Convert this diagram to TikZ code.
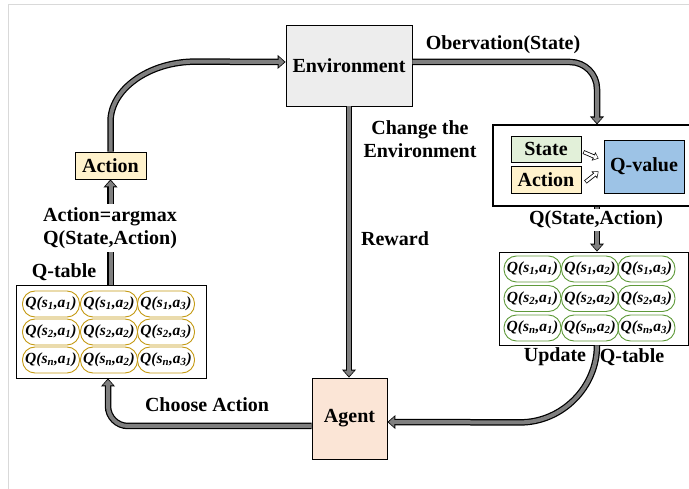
\documentclass[tikz,border=0pt]{standalone}
\usepackage{fontspec}
\setmainfont{Liberation Serif}
\usetikzlibrary{arrows.meta}
\definecolor{arrgray}{HTML}{7F7F7F}
\definecolor{envfill}{HTML}{EDEDED}
\definecolor{agentfill}{HTML}{FBE5D6}
\definecolor{actfill}{HTML}{FFF2CC}
\definecolor{statefill}{HTML}{E2F0D9}
\definecolor{qvfill}{HTML}{9DC3E6}
\definecolor{ycell}{HTML}{C49A14}
\definecolor{gcell}{HTML}{5F9A3A}
\definecolor{framegray}{HTML}{D9D9D9}
\newcommand\qcell[2]{\itshape Q(s\textsubscript{#1},a\textsubscript{#2})}
\begin{document}
\begin{tikzpicture}[x=1pt,y=-1pt,
  lbl/.style={font=\bfseries\fontsize{20}{23}\selectfont, align=center, inner sep=1pt},
  box/.style={draw=black, line width=0.8pt, inner sep=0pt, font=\bfseries\fontsize{20}{23}\selectfont},
  cell/.style={draw, line width=0.9pt, rounded corners=12.5pt, minimum width=57pt, minimum height=26pt, inner sep=0pt, font=\bfseries\fontsize{15.5}{17}\selectfont},
  garrow/.style={draw=arrgray, line width=4pt, -{Triangle[length=5.5pt,width=10pt]}, shorten >=1.4pt,
     preaction={draw=black, line width=6.5pt, -{Triangle[length=8pt,width=13.5pt]}, shorten >=0pt}},
  harrow/.style={draw=white, line width=2.4pt, -{Triangle[length=3.5pt,width=6pt]}, shorten >=1pt, shorten <=0.7pt,
     preaction={draw=black, line width=4pt, -{Triangle[length=5.5pt,width=9pt]}, shorten >=0pt, shorten <=0pt}}
]
\useasboundingbox (0,0) rectangle (689,489);
\draw[framegray, line width=1pt] (8,489) -- (8,5) -- (689,5);

% main boxes
\node[box, fill=envfill, minimum width=126pt, minimum height=81pt] (env) at (349,65.5) {Environment};
\node[box, fill=agentfill, minimum width=75pt, minimum height=81pt] (agent) at (349.5,418.5) {Agent};
\node[box, fill=actfill, minimum width=71pt, minimum height=27pt] (act) at (110.5,165.5) {Action};

% Q network box
\node[box, line width=1.1pt, minimum width=208pt, minimum height=81pt] (qnet) at (597,165.5) {};
\node[box, fill=statefill, minimum width=70pt, minimum height=26pt] (state) at (546,149) {State};
\node[box, fill=actfill, minimum width=70pt, minimum height=27pt] (sact) at (546,179.5) {Action};
\node[box, fill=qvfill, minimum width=80pt, minimum height=53pt] (qv) at (644,166.5) {Q-value};
\draw[harrow] ([xshift=2pt,yshift=-3pt]state.east) -- ([xshift=-5pt,yshift=8pt]qv.west);
\draw[harrow] ([xshift=4pt,yshift=-2.5pt]sact.east) -- ([xshift=-5pt,yshift=-5pt]qv.west);

% left Q-table
\node[box, minimum width=190pt, minimum height=93pt] (ytab) at (111,331.5) {};
\foreach \r/\s/\y in {1/1/304, 2/2/332, 3/n/360}{
  \foreach \c/\x in {1/51, 2/109, 3/166}{
    \node[cell, draw=ycell] (yc\r\c) at (\x,\y) {\qcell{\s}{\c}};
  }
}
% right Q-table
\node[box, minimum width=189pt, minimum height=93pt] (gtab) at (593.5,298.5) {};
\foreach \r/\s/\y in {1/1/269, 2/2/298.5, 3/n/328}{
  \foreach \c/\x in {1/532.5, 2/590, 3/646.5}{
    \node[cell, draw=gcell] (gc\r\c) at (\x,\y) {\qcell{\s}{\c}};
  }
}

% labels
\node[lbl] (obs) at (503,45) {Obervation(State)};
\node[lbl] (chg) at (420,139) {Change the\\Environment};
\node[lbl] (rew) at (395,239) {Reward};
\node[lbl] (cho) at (207,405) {Choose Action};
\node[lbl] (yql) at (64,272) {Q-table};
\node[lbl] (upd) at (555,357) {Update};
\node[lbl] (gql) at (632,357) {Q-table};

% connectors
\draw[garrow, rounded corners=27pt] ([yshift=3.5pt]env.east) -| (qnet.north);
\draw[garrow] (qnet.south) -- (qnet.south |- gtab.north);
\draw[garrow] (qnet.south |- gtab.south) .. controls +(0,42) and +(42,0) .. ++(-77,77) -- ([yshift=-3.5pt]agent.east);
\draw[garrow] (env.south) -- (env.south |- agent.north);
\draw[garrow, rounded corners=20pt] ([yshift=-7.5pt]agent.west) -| ([xshift=-3pt]ytab.south);
\draw[garrow] (act.south |- ytab.north) -- (act.south);
\draw[garrow] (act.north) -- ++(0,-30) .. controls +(0,-32) and +(-47,0) .. ++(85,-60) -- ([yshift=3.5pt]env.west);

% labels on top of connectors
\node[lbl, fill=white, inner sep=3pt] (argm) at (110,228) {Action=argmax\\Q(State,Action)};
\node[lbl, fill=white, inner sep=2pt] (qsa) at (596,220) {Q(State,Action)};
\end{tikzpicture}
\end{document}
